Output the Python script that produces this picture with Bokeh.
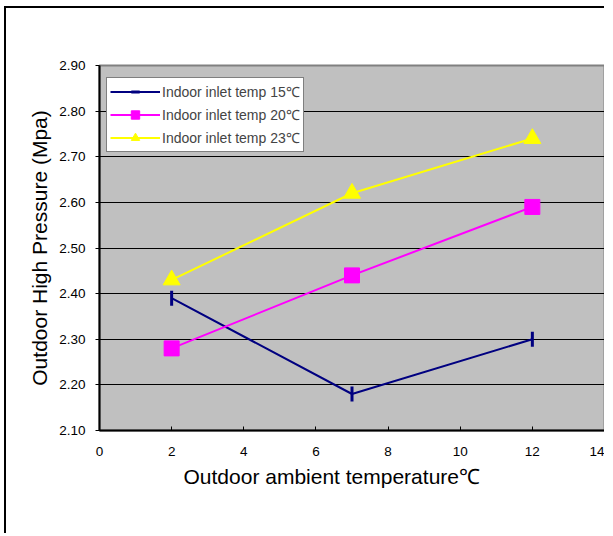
import math
from bokeh.plotting import figure
from bokeh.models import FixedTicker, PrintfTickFormatter, Legend, LegendItem, Title
from bokeh.embed import file_html
from bokeh.resources import INLINE

# ---- data ----
outdoor_temp = [2, 7, 12]
pressure_15 = [2.39, 2.18, 2.30]
pressure_20 = [2.28, 2.44, 2.59]
pressure_23 = [2.43, 2.62, 2.74]
series_labels = ["Indoor inlet temp 15℃", "Indoor inlet temp 20℃", "Indoor inlet temp 23℃"]
x_ticks = [0, 2, 4, 6, 8, 10, 12, 14]
y_ticks = [2.10, 2.20, 2.30, 2.40, 2.50, 2.60, 2.70, 2.80, 2.90]
x_title = "Outdoor ambient temperature℃"
y_title = "Outdoor High Pressure (Mpa)"

FONT = "Liberation Sans"

p = figure(width=600, height=527, x_range=(0, 14), y_range=(2.10, 2.90),
           output_backend="svg", toolbar_location=None,
           min_border_left=93, min_border_right=2, min_border_top=57, min_border_bottom=105)
p.styles = {"margin-left": "4px", "margin-top": "6px",
            "border-left": "2px solid black", "border-top": "2px solid black"}

p.background_fill_color = "#C0C0C0"
p.border_fill_color = "white"
p.outline_line_color = "#808080"
p.outline_line_width = 2

p.xgrid.grid_line_color = None
p.ygrid.grid_line_color = "black"
p.ygrid.grid_line_width = 1
p.ygrid.ticker = FixedTicker(ticks=y_ticks)

p.xaxis.ticker = FixedTicker(ticks=x_ticks)
p.yaxis.ticker = FixedTicker(ticks=y_ticks)
p.yaxis.formatter = PrintfTickFormatter(format="%.2f")

for ax in (p.xaxis[0], p.yaxis[0]):
    ax.axis_line_color = "black"
    ax.axis_line_width = 2
    ax.major_tick_line_color = "black"
    ax.major_tick_line_width = 1
    ax.minor_tick_line_color = None
    ax.major_label_text_font = FONT
    ax.major_label_text_font_size = "13.5px"
    ax.major_label_text_color = "black"
    ax.axis_label_text_font = FONT
    ax.axis_label_text_font_size = "21px"
    ax.axis_label_text_font_style = "normal"
    ax.axis_label_text_color = "black"

p.xaxis.major_tick_in = 4
p.xaxis.major_tick_out = 0
p.yaxis.major_tick_in = 0
p.yaxis.major_tick_out = 4
p.xaxis.major_label_standoff = 16
p.yaxis.major_label_standoff = 10
p.yaxis.axis_label = y_title
p.yaxis.axis_label_standoff = 5

# x-axis title, placed left of centre as in the original
xt = Title(text=x_title, align="left", offset=84, standoff=9,
           text_font=FONT, text_font_size="21px", text_font_style="normal",
           text_color="black")
p.add_layout(xt, "below")

colors = ["#000080", "#FF00FF", "#FFFF00"]

r1 = p.line(outdoor_temp, pressure_15, line_color=colors[0], line_width=2)
m1 = p.scatter(outdoor_temp, pressure_15, marker="dash", angle=math.pi / 2, size=15,
               line_color=colors[0], line_width=3)
r2 = p.line(outdoor_temp, pressure_20, line_color=colors[1], line_width=2)
m2 = p.scatter(outdoor_temp, pressure_20, marker="square", size=15,
               fill_color=colors[1], line_color=colors[1])
r3 = p.line(outdoor_temp, pressure_23, line_color=colors[2], line_width=2)
m3 = p.scatter(outdoor_temp, pressure_23, marker="triangle", size=17,
               fill_color=colors[2], line_color=colors[2])

legend = Legend(items=[
    LegendItem(label=series_labels[0], renderers=[r1, m1]),
    LegendItem(label=series_labels[1], renderers=[r2, m2]),
    LegendItem(label=series_labels[2], renderers=[r3, m3]),
], location=(7, 278))
legend.label_text_font = FONT
legend.label_text_font_size = "14px"
legend.glyph_width = 50
legend.glyph_height = 21
legend.spacing = 2
legend.padding = 3
legend.margin = 0
legend.label_standoff = 2
legend.label_height = 21
legend.border_line_color = "black"
legend.border_line_width = 1
legend.background_fill_color = "white"
legend.background_fill_alpha = 1
p.add_layout(legend, "center")

open("out.html", "w").write(file_html(p, INLINE))
